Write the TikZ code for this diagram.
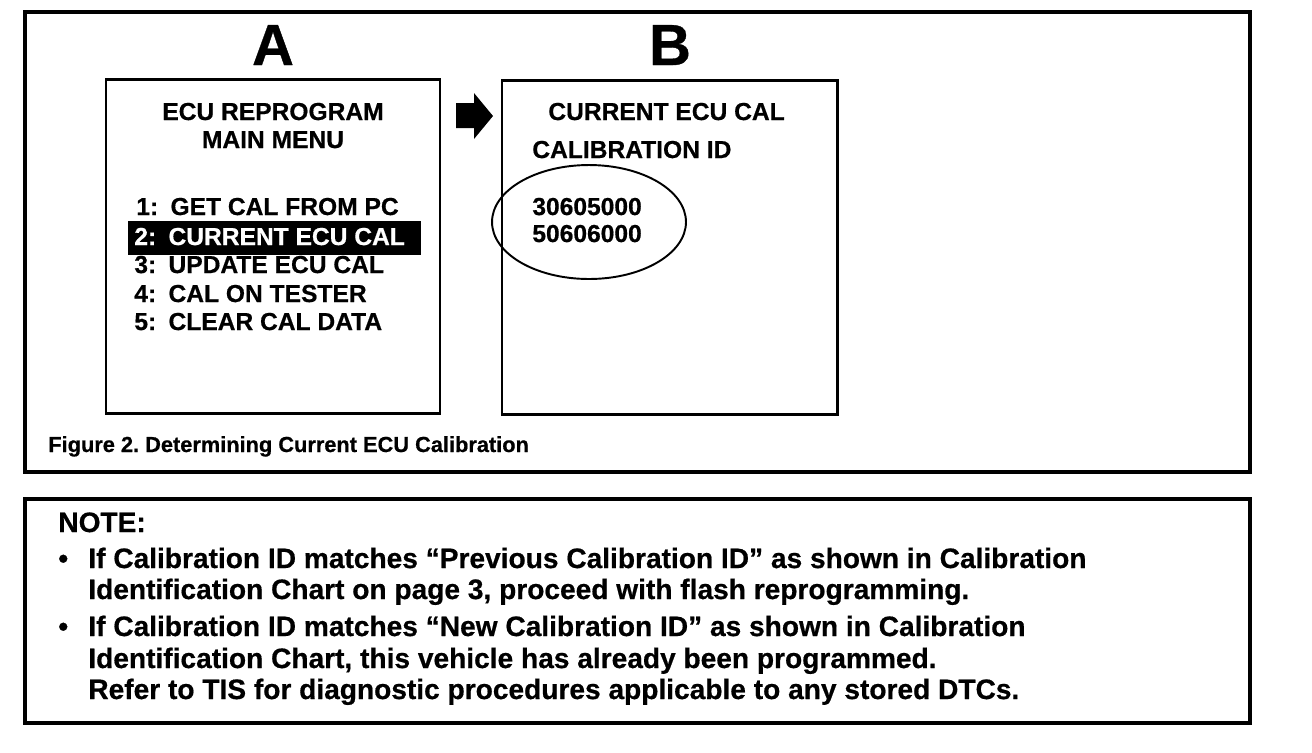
\documentclass[tikz,border=0pt]{standalone}
\usepackage{fontspec}
\setmainfont{Liberation Sans}[BoldFeatures={FakeBold=0.6}]
\tikzset{
  frame/.style={line width=2pt},
  screen/.style={line width=1.7pt},
  bigletter/.style={anchor=base, inner sep=0pt, font=\fontsize{33}{36}\selectfont\bfseries},
  screentext/.style={anchor=base west, inner sep=0pt, font=\fontsize{14}{16}\selectfont\bfseries},
  notetext/.style={anchor=base west, inner sep=0pt, font=\fontsize{16}{18}\selectfont\bfseries},
  captiontext/.style={anchor=base west, inner sep=0pt, font=\fontsize{12.4}{14}\selectfont\bfseries}
}
\newcommand{\itemgap}{\hspace{0.5em}}
\frenchspacing
\begin{document}
\begin{tikzpicture}[x=0.02cm, y=-0.02cm]
  \useasboundingbox (0,0) rectangle (1312,752);
  % Frames
  \draw[frame] (25,12) rectangle (1250,472);
  \draw[frame] (25,499) rectangle (1250,723);
  % Screens
  \draw[screen] (106,79) rectangle (440,413);
  \draw[screen] (502,80) rectangle (837,414);
  \node[bigletter] (letterA) at (273,65) {A};
  \node[bigletter] (letterB) at (670,65) {B};
  % Screen A
  \node[screentext, anchor=base] (menutitle) at (273,120) {ECU REPROGRAM};
  \node[screentext, anchor=base] (menusub) at (273,148) {MAIN MENU};
  \node[screentext] (item1) at (136,215) {1:\itemgap GET CAL FROM PC};
  \fill (128,221) rectangle (421,255); % highlight
  \node[screentext, white] (item2) at (134,245) {2:\itemgap CURRENT ECU CAL};
  \node[screentext] (item3) at (134,273) {3:\itemgap UPDATE ECU CAL};
  \node[screentext] (item4) at (134,302) {4:\itemgap CAL ON TESTER};
  \node[screentext] (item5) at (134,330) {5:\itemgap CLEAR CAL DATA};
  % Arrow
  \fill (456,103) -- (474,103) -- (474,93) -- (493,116) -- (474,139)
    -- (474,128) -- (456,128) -- cycle;
  % Screen B
  \node[screentext] (curtitle) at (548,120) {CURRENT ECU CAL};
  \node[screentext] (calid) at (532,158) {CALIBRATION ID};
  \node[screentext] (calone) at (532,215) {30605000};
  \node[screentext] (caltwo) at (532,242) {50606000};
  \draw[line width=1.1pt] (589,222) ellipse [x radius=1.94cm, y radius=1.14cm];
  % Caption
  \node[captiontext] (caption) at (48,452) {Figure 2. Determining Current ECU Calibration};
  % Note
  \node[notetext] (note) at (58,532) {NOTE:};
  \node[notetext] (bulletone) at (58,568) {\textbullet};
  \node[notetext] (lineone) at (88,568) {If Calibration ID matches “Previous Calibration ID” as shown in Calibration};
  \node[notetext] (linetwo) at (88,599) {Identification Chart on page 3, proceed with flash reprogramming.};
  \node[notetext] (bullettwo) at (58,636) {\textbullet};
  \node[notetext] (linethree) at (88,636) {If Calibration ID matches “New Calibration ID” as shown in Calibration};
  \node[notetext] (linefour) at (88,668) {Identification Chart, this vehicle has already been programmed.};
  \node[notetext] (linefive) at (88,699) {Refer to TIS for diagnostic procedures applicable to any stored DTCs.};
\end{tikzpicture}
\end{document}
